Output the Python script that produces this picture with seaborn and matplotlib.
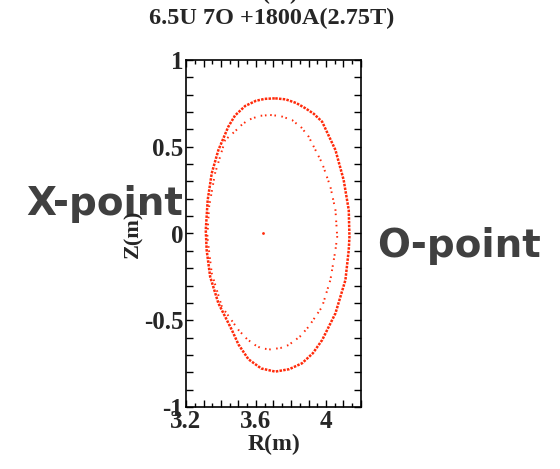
import matplotlib
matplotlib.use("Agg")
import matplotlib.pyplot as plt
import seaborn as sns
import pandas as pd
from matplotlib.ticker import MultipleLocator, FuncFormatter

sns.set_theme(style="white")
plt.rcParams['font.family'] = ['Liberation Serif', 'DejaVu Serif']

title = "6.5U 7O +1800A(2.75T)"

# Outer surface (R, Z), read clockwise from the top
outer_R = [3.71, 3.77, 3.83, 3.882, 3.93, 3.978, 4.054, 4.101, 4.130, 4.134, 4.130,
           4.111, 4.054, 3.978, 3.925, 3.863, 3.79, 3.710, 3.63, 3.557, 3.50,
           3.462, 3.385, 3.338, 3.318, 3.313, 3.324, 3.347, 3.385, 3.442, 3.48,
           3.538, 3.60, 3.65, 3.71]
outer_Z = [0.779, 0.773, 0.752, 0.722, 0.69, 0.644, 0.481, 0.308, 0.135, -0.018, -0.095,
           -0.268, -0.460, -0.614, -0.69, -0.748, -0.782, -0.796, -0.778, -0.725, -0.64,
           -0.556, -0.402, -0.249, -0.095, 0.02, 0.193, 0.347, 0.481, 0.616, 0.68,
           0.735, 0.765, 0.776, 0.779]

# Inner surface (R, Z)
inner_R = [3.681, 3.74, 3.806, 3.86, 3.901, 3.978, 4.025, 4.054, 4.064, 4.054, 4.025,
           3.978, 3.901, 3.85, 3.786, 3.74, 3.681, 3.63, 3.595, 3.55, 3.500,
           3.405, 3.347, 3.322, 3.332, 3.366, 3.424, 3.481, 3.52, 3.557, 3.62, 3.681]
inner_Z = [0.683, 0.677, 0.654, 0.61, 0.558, 0.405, 0.270, 0.135, -0.018, -0.095, -0.268,
           -0.422, -0.537, -0.595, -0.643, -0.66, -0.668, -0.662, -0.643, -0.61, -0.556,
           -0.422, -0.229, -0.018, 0.155, 0.347, 0.539, 0.590, 0.628, 0.655, 0.678, 0.683]

axis_R = [3.64]
axis_Z = [0.0]

x_ticklabels = {3.2: "3.2", 3.6: "3.6", 4.0: "4"}
y_ticklabels = {-1.0: "-1", -0.5: "-0.5", 0.0: "0", 0.5: "0.5", 1.0: "1"}

red = "#ff2a0a"

fig = plt.figure(figsize=(5.6, 4.69), dpi=100)
ax = fig.add_axes([186/560, 1-407/469, 175/560, 347/469])

outer = pd.DataFrame({"R": outer_R, "Z": outer_Z})
inner = pd.DataFrame({"R": inner_R, "Z": inner_Z})
sns.lineplot(data=outer, x="R", y="Z", sort=False, estimator=None, ax=ax,
             color=red, lw=1.8, linestyle=(0, (1.0, 0.5)))
sns.lineplot(data=inner, x="R", y="Z", sort=False, estimator=None, ax=ax,
             color=red, lw=1.4, linestyle=(0, (0.8, 1.4, 0.8, 2.8)))
sns.scatterplot(x=axis_R, y=axis_Z, ax=ax, color=red, s=4, linewidth=0)

ax.set_xlim(3.2, 4.2)
ax.set_ylim(-1, 1)
ax.xaxis.set_major_locator(MultipleLocator(0.1))
ax.xaxis.set_minor_locator(MultipleLocator(0.05))
ax.yaxis.set_major_locator(MultipleLocator(0.1))
ax.xaxis.set_major_formatter(FuncFormatter(
    lambda v, p: next((s for k, s in x_ticklabels.items() if abs(k - v) < 1e-6), "")))
ax.yaxis.set_major_formatter(FuncFormatter(
    lambda v, p: next((s for k, s in y_ticklabels.items() if abs(k - v) < 1e-6), "")))
ax.tick_params(which="both", direction="in", top=True, right=True,
               bottom=True, left=True, color="black", width=1.0)
ax.tick_params(which="major", length=5, labelsize=18, pad=2)
ax.tick_params(which="minor", length=3)
for lab in ax.get_xticklabels() + ax.get_yticklabels():
    lab.set_fontweight("bold")
for s in ax.spines.values():
    s.set_color("black")
    s.set_linewidth(1.2)

ax.set_xlabel("R(m)", fontsize=17, fontweight="bold", labelpad=1)
ax.set_ylabel("Z(m)", fontsize=16, fontweight="bold", labelpad=0)

fig.text(272/560, 1-18/469, title, ha="center", va="center",
         fontsize=17.5, fontweight="bold")
fig.text(272/560, 1+1/469, "R(m)", ha="center", va="baseline",
         fontsize=17, fontweight="bold")

fig.text(105/560, 1-204/469, "X-point", ha="center", va="center", zorder=-1,
         fontsize=28, fontweight="bold", color="#404040", family="DejaVu Sans")
fig.text(459/560, 1-246/469, "O-point", ha="center", va="center",
         fontsize=28, fontweight="bold", color="#404040", family="DejaVu Sans")

fig.savefig("out.png", dpi=100)
